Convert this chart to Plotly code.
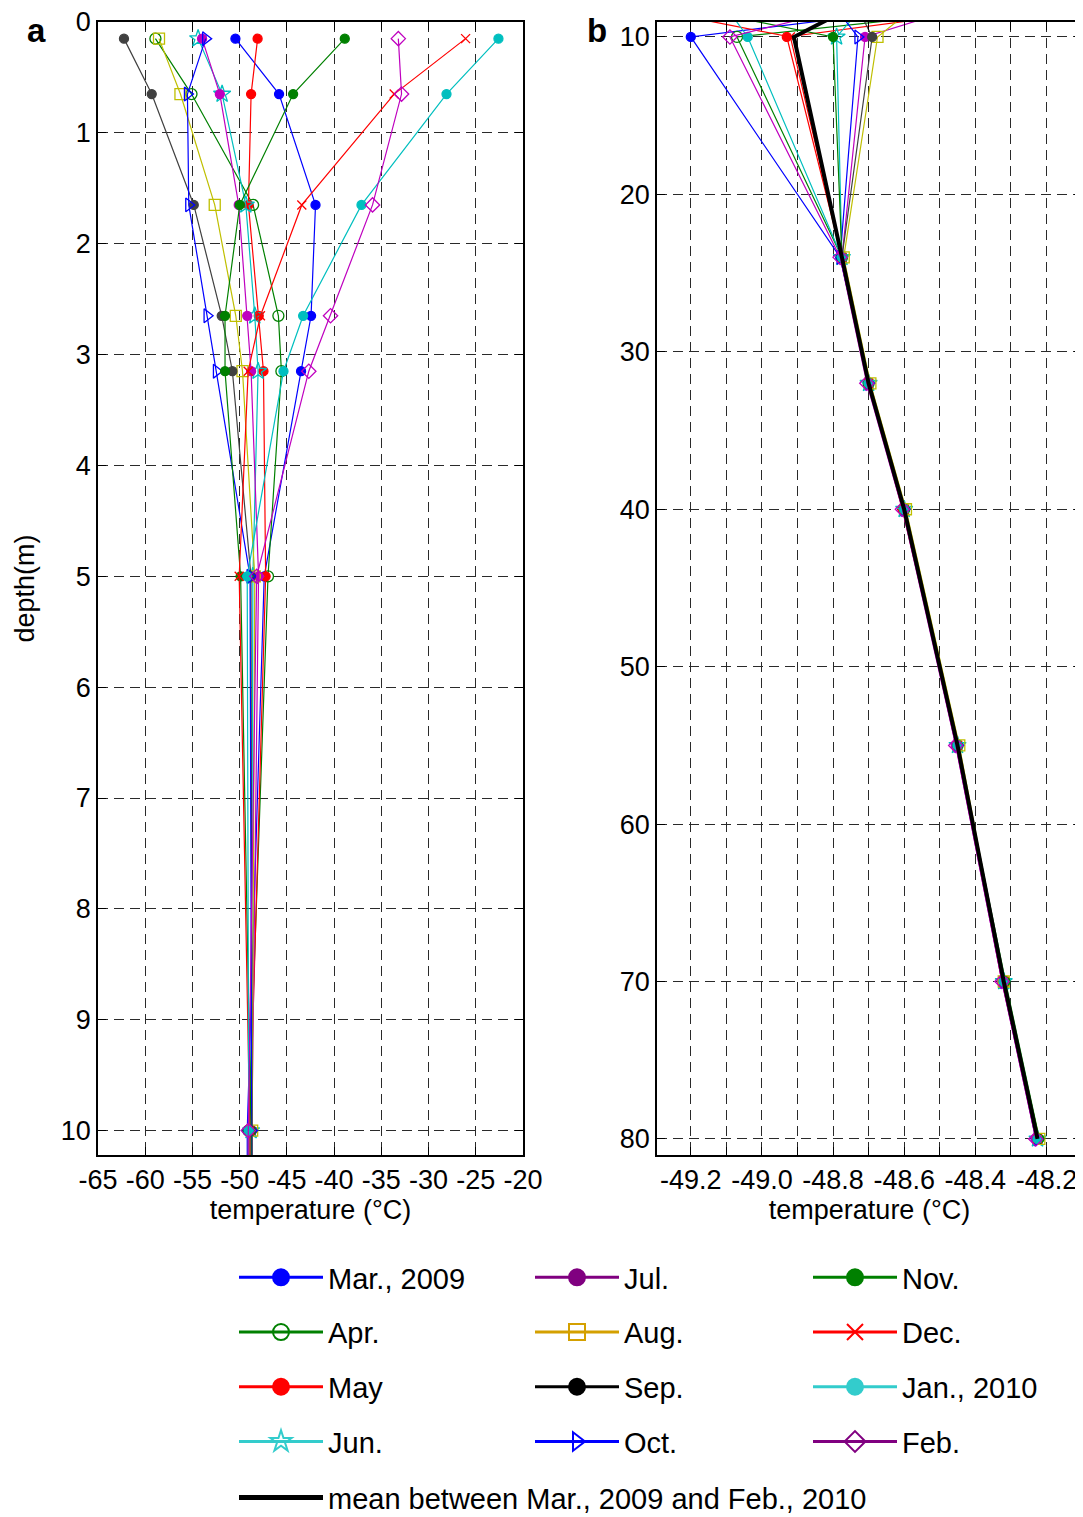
import plotly.graph_objects as go

# ---------------- data ----------------
depths = [0.15, 0.65, 1.65, 2.65, 3.15, 5, 10, 24, 32, 40, 55, 70, 80]

mar_2009 = [-50.45, -45.83, -41.97, -42.44, -43.50, -47.40, -49.20, -48.780, -48.700, -48.600, -48.450, -48.320, -48.230]
apr = [-58.92, -55.10, -48.58, -45.90, -45.58, -47.00, -49.07, -48.775, -48.700, -48.600, -48.450, -48.320, -48.225]
may = [-48.10, -48.79, -49.07, -47.98, -47.48, -47.25, -48.93, -48.775, -48.700, -48.605, -48.450, -48.325, -48.225]
jun = [-54.40, -51.86, -49.35, -48.40, -48.05, -48.60, -48.79, -48.775, -48.700, -48.600, -48.450, -48.320, -48.225]
jul = [-53.98, -52.10, -50.10, -49.20, -48.79, -48.00, -48.71, -48.775, -48.700, -48.600, -48.455, -48.325, -48.230]
aug = [-58.54, -56.27, -52.64, -50.41, -49.70, -48.40, -48.675, -48.770, -48.695, -48.595, -48.445, -48.320, -48.220]
sep = [-62.25, -59.31, -54.86, -51.90, -50.77, -48.80, -48.69, -48.775, -48.700, -48.600, -48.450, -48.320, -48.225]
octo = [-53.60, -55.53, -55.39, -53.45, -52.46, -48.90, -48.73, -48.780, -48.700, -48.600, -48.450, -48.320, -48.225]
nov = [-38.87, -44.34, -49.99, -51.55, -51.55, -49.90, -48.80, -48.775, -48.700, -48.600, -48.450, -48.315, -48.220]
dec = [-26.08, -33.64, -43.42, -47.80, -49.10, -50.05, -48.92, -48.775, -48.700, -48.600, -48.450, -48.320, -48.225]
jan_2010 = [-22.60, -28.10, -37.10, -43.28, -45.36, -49.20, -49.04, -48.775, -48.700, -48.600, -48.450, -48.320, -48.225]
feb = [-33.20, -32.86, -35.93, -40.38, -42.68, -48.20, -49.09, -48.780, -48.705, -48.605, -48.455, -48.325, -48.230]

mean_depths = [5, 10, 24, 32, 40, 55, 70, 80]
mean_temps = [-48.48, -48.91, -48.775, -48.700, -48.600, -48.450, -48.320, -48.225]

month_names = ["Mar., 2009", "Apr.", "May", "Jun.", "Jul.", "Aug.", "Sep.", "Oct.",
               "Nov.", "Dec.", "Jan., 2010", "Feb."]
mean_name = "mean between Mar., 2009 and Feb., 2010"

xticks_a = [-65, -60, -55, -50, -45, -40, -35, -30, -25, -20]
xticklabels_a = ["-65", "-60", "-55", "-50", "-45", "-40", "-35", "-30", "-25", "-20"]
yticks_a = [0, 1, 2, 3, 4, 5, 6, 7, 8, 9, 10]
xticks_b = [-49.2, -49.0, -48.8, -48.6, -48.4, -48.2]
xticklabels_b = ["-49.2", "-49.0", "-48.8", "-48.6", "-48.4", "-48.2"]
yticks_b = [10, 20, 30, 40, 50, 60, 70, 80]

# ---------------- styles ----------------
series = [mar_2009, apr, may, jun, jul, aug, sep, octo, nov, dec, jan_2010, feb]
plot_colors = ["#0000FF", "#008000", "#FF0000", "#00BFBF", "#BF00BF", "#BFBF00",
               "#404040", "#0000FF", "#008000", "#FF0000", "#00BFBF", "#BF00BF"]
legend_colors = ["#0000FF", "#008000", "#FF0000", "#33CCCC", "#800080", "#D4A000",
                 "#000000", "#0000FF", "#008000", "#FF0000", "#33CCCC", "#800080"]
symbols = ["circle", "circle-open", "circle", "star-open", "circle", "square-open",
           "circle", "triangle-right-open", "circle", "x-thin-open", "circle", "diamond-open"]
sizes = [9, 11, 9, 13, 9, 11, 9, 12, 9, 9, 9, 11]
legend_ids = ["legend"] * 4 + ["legend2"] * 4 + ["legend3"] * 4

FONT = "Liberation Sans, Arial, sans-serif"

fig = go.Figure()

for i, vals in enumerate(series):
    for xa, ya in (("x", "y"), ("x2", "y2")):
        fig.add_trace(go.Scatter(
            x=vals, y=depths, xaxis=xa, yaxis=ya, mode="lines+markers",
            line=dict(color=plot_colors[i], width=1.2),
            marker=dict(symbol=symbols[i], size=sizes[i], color=plot_colors[i],
                        line=dict(width=1.3, color=plot_colors[i])),
            showlegend=False, legendgroup=month_names[i], cliponaxis=True,
            hoverinfo="skip"))

fig.add_trace(go.Scatter(
    x=mean_temps, y=mean_depths, xaxis="x2", yaxis="y2", mode="lines",
    line=dict(color="black", width=4), showlegend=False, legendgroup="mean"))

# legend entries
for i, name in enumerate(month_names):
    fig.add_trace(go.Scatter(
        x=[None], y=[None], mode="lines+markers", name=name,
        line=dict(color=legend_colors[i], width=3),
        marker=dict(symbol=symbols[i], size=16, color=legend_colors[i],
                    line=dict(width=2, color=legend_colors[i])),
        legend=legend_ids[i], legendgroup=name, showlegend=True))
fig.add_trace(go.Scatter(
    x=[None], y=[None], mode="lines", name=mean_name,
    line=dict(color="black", width=5), legend="legend4",
    legendgroup="mean", showlegend=True))

# the page body has an 8px margin; compensate so the figure lands at window pixels
OFF = 8
W, H = 1083 - OFF, 1517 - OFF
def px_x(p):
    return (p - OFF) / W
def px_y(p):
    return 1 - (p - OFF) / H

grid_common = dict(showgrid=True, gridcolor="#2a2a2a", gridwidth=1.3, griddash="10px,6px",
                   zeroline=False, showline=True, linecolor="black", linewidth=1.5,
                   mirror="allticks", ticks="inside", ticklen=8, tickcolor="black",
                   tickfont=dict(size=27, color="black", family=FONT), tickangle=0,
                   automargin=False)

fig.update_layout(
    width=W, height=H, margin=dict(l=0, r=0, t=0, b=0, autoexpand=False),
    paper_bgcolor="white", plot_bgcolor="white",
    font=dict(family=FONT, color="black"),
    xaxis=dict(domain=[px_x(98), px_x(523)], range=[-65, -20], tickvals=xticks_a,
               ticktext=xticklabels_a,
               title=dict(text="temperature (°C)", font=dict(size=27), standoff=6),
               anchor="y", **grid_common),
    yaxis=dict(domain=[px_y(1155), px_y(22)], range=[10.22, 0], tickvals=yticks_a,
               title=dict(text="depth(m)", font=dict(size=27), standoff=18),
               anchor="x", **grid_common),
    xaxis2=dict(domain=[px_x(657), px_x(1082)], range=[-49.295, -48.1], tickvals=xticks_b,
                ticktext=xticklabels_b,
                minor=dict(dtick=0.1, tick0=-49.2, ticks="inside", ticklen=8, tickcolor="black",
                           showgrid=True, gridcolor="#2a2a2a", gridwidth=1.3, griddash="10px,6px"),
                title=dict(text="temperature (°C)", font=dict(size=27), standoff=6),
                anchor="y2", **grid_common),
    yaxis2=dict(domain=[px_y(1155), px_y(22)], range=[81.02, 9.05], tickvals=yticks_b,
                anchor="x2", **grid_common),
    annotations=[
        dict(text="<b>a</b>", x=px_x(36), y=px_y(31), xref="paper", yref="paper",
             xanchor="center", yanchor="middle",
             showarrow=False, font=dict(size=33, family=FONT)),
        dict(text="<b>b</b>", x=px_x(597), y=px_y(31), xref="paper", yref="paper",
             xanchor="center", yanchor="middle",
             showarrow=False, font=dict(size=33, family=FONT)),
    ],
)

leg_common = dict(orientation="v", xanchor="left", itemwidth=84,
                  font=dict(size=29, family=FONT, color="black"), tracegroupgap=14,
                  bgcolor="rgba(0,0,0,0)", itemclick=False, itemdoubleclick=False)
fig.update_layout(
    legend=dict(x=px_x(234), y=px_y(1252), yanchor="top", **leg_common),
    legend2=dict(x=px_x(530), y=px_y(1252), yanchor="top", **leg_common),
    legend3=dict(x=px_x(808), y=px_y(1252), yanchor="top", **leg_common),
    legend4=dict(x=px_x(234), y=-0.004, yanchor="bottom", **leg_common),
)

fig.write_html("out.html")
